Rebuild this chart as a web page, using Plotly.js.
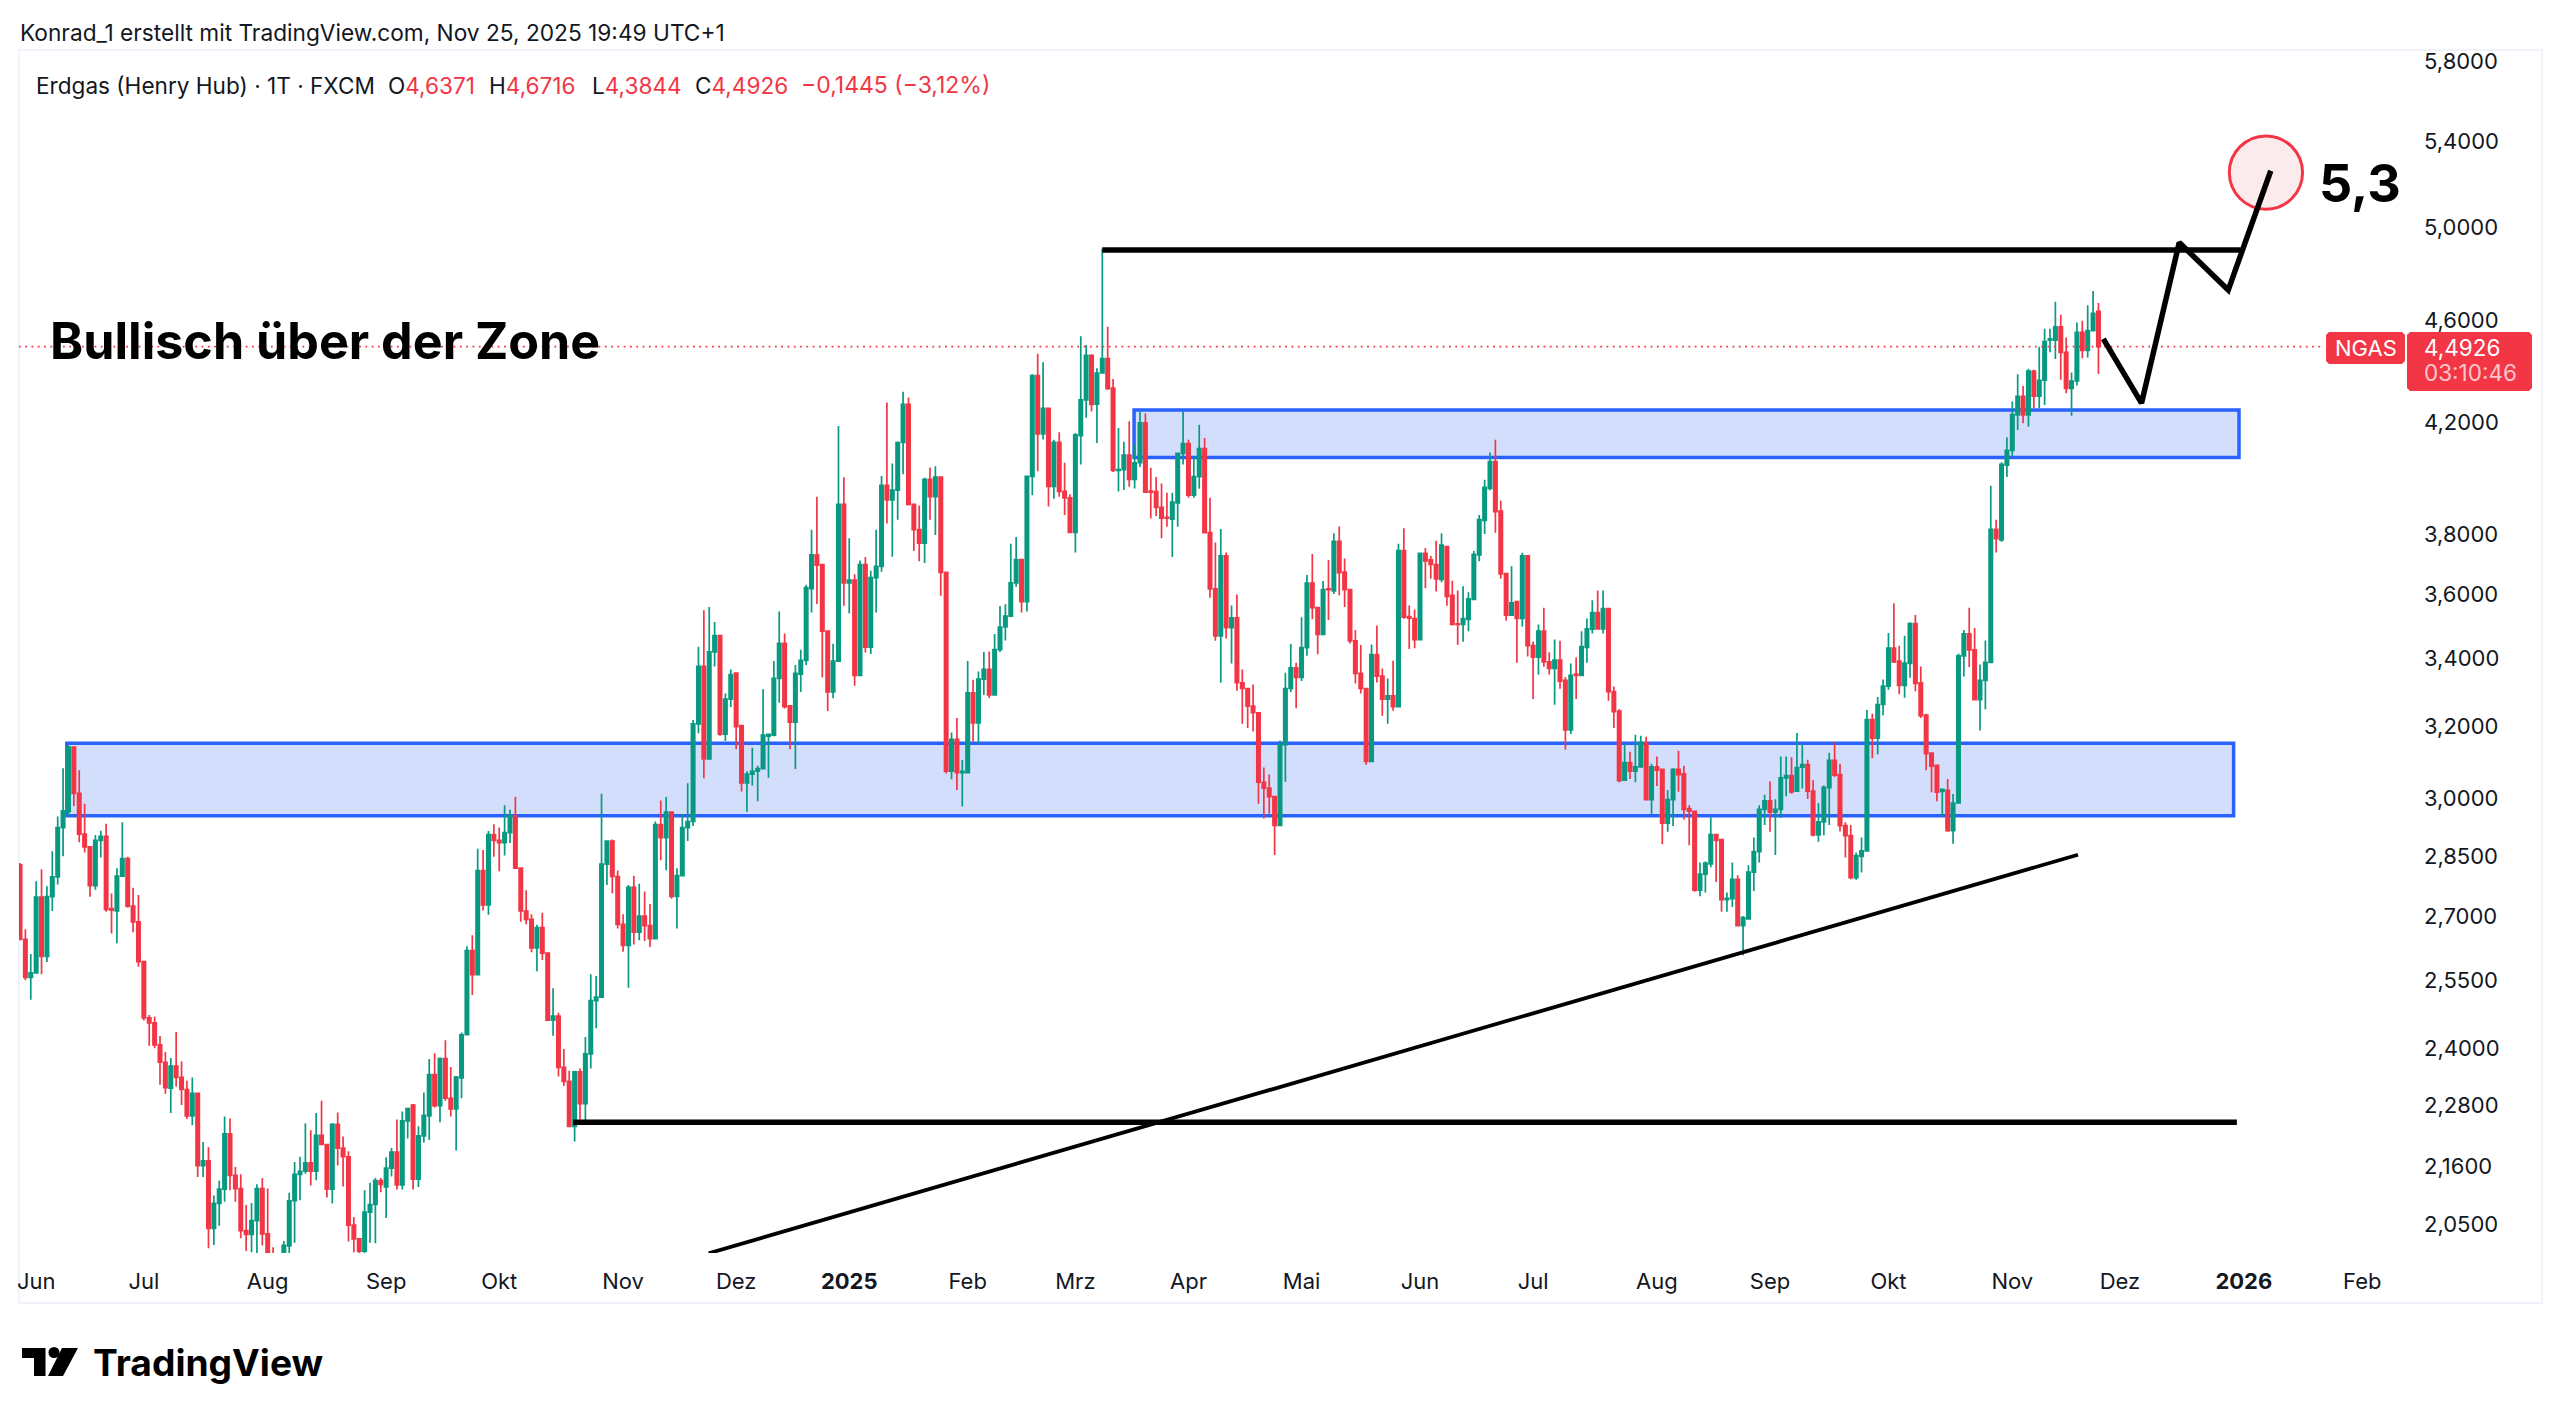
<!DOCTYPE html>
<html><head><meta charset="utf-8">
<script src="https://cdn.plot.ly/plotly-3.0.1.min.js"></script>
<style>html,body{margin:0;padding:0;background:#fff}#c{width:2560px;height:1419px}</style>
</head><body><div id="c"></div>
<script>
const openP=[
2.827,2.645,2.557,2.567,2.747,2.605,2.748,2.797,2.923,2.965,
3.141,3.014,2.906,2.873,2.775,2.890,2.900,2.719,2.713,2.799,
2.843,2.725,2.687,2.593,2.466,2.455,2.407,2.370,2.316,2.362,
2.338,2.313,2.259,2.305,2.161,2.170,2.043,2.089,2.116,2.223,
2.142,2.117,2.039,2.032,2.057,2.117,2.033,1.990,1.950,1.995,
2.011,2.094,2.144,2.150,2.166,2.150,2.220,2.202,2.116,2.242,
2.195,2.178,2.049,2.024,2.002,2.073,2.087,2.132,2.120,2.156,
2.187,2.124,2.249,2.281,2.135,2.219,2.259,2.344,2.280,2.378,
2.295,2.273,2.337,2.429,2.619,2.563,2.813,2.728,2.905,2.890,
2.884,2.910,2.954,2.819,2.713,2.693,2.625,2.673,2.613,2.461,
2.470,2.359,2.330,2.238,2.350,2.284,2.388,2.504,2.512,2.829,
2.888,2.798,2.681,2.631,2.771,2.662,2.701,2.678,2.647,2.931,
2.897,2.964,2.749,2.800,2.923,2.939,3.207,3.376,3.108,3.420,
3.470,3.178,3.279,3.356,3.202,3.042,3.066,3.074,3.081,3.172,
3.175,3.340,3.446,3.259,3.212,3.353,3.394,3.619,3.730,3.698,
3.484,3.300,3.392,3.902,3.638,3.647,3.349,3.698,3.435,3.655,
3.692,3.969,3.918,3.952,4.124,4.267,3.902,3.815,3.769,3.990,
3.929,3.998,3.672,3.074,3.163,3.070,3.070,3.297,3.210,3.338,
3.367,3.291,3.427,3.497,3.531,3.638,3.714,3.577,4.001,4.378,
4.156,4.252,3.965,4.125,3.948,3.925,3.806,4.149,4.284,4.458,
4.268,4.389,4.445,4.329,4.022,4.025,4.078,3.990,4.050,4.197,
3.949,3.947,3.892,3.857,3.851,3.907,4.084,4.120,3.934,4.000,
4.102,3.805,3.618,3.469,3.727,3.495,3.526,3.327,3.310,3.258,
3.239,3.044,3.028,3.005,2.929,3.148,3.310,3.372,3.343,3.433,
3.637,3.558,3.474,3.618,3.612,3.775,3.673,3.616,3.454,3.355,
3.310,3.101,3.412,3.347,3.279,3.288,3.257,3.744,3.530,3.523,
3.458,3.735,3.713,3.698,3.649,3.758,3.597,3.507,3.505,3.521,
3.584,3.730,3.847,3.958,4.054,3.879,3.668,3.534,3.577,3.524,
3.727,3.439,3.404,3.484,3.390,3.370,3.395,3.334,3.190,3.353,
3.349,3.434,3.490,3.542,3.491,3.555,3.301,3.244,3.050,3.098,
3.074,3.086,3.152,2.997,3.086,3.079,2.935,2.997,3.079,3.067,
2.973,2.966,2.764,2.804,2.830,2.905,2.892,2.741,2.743,2.791,
2.678,2.694,2.809,2.861,2.971,2.994,2.964,2.971,3.056,3.062,
3.020,3.085,3.092,3.020,2.904,2.938,3.029,3.104,3.065,2.928,
2.902,2.795,2.849,2.863,3.219,3.166,3.263,3.317,3.432,3.392,
3.319,3.385,3.508,3.327,3.232,3.124,3.090,3.019,3.022,2.915,
2.988,3.408,3.476,3.426,3.277,3.334,3.388,3.816,3.780,4.041,
4.095,4.227,4.298,4.227,4.396,4.298,4.360,4.519,4.519,4.573,
4.470,4.328,4.357,4.551,4.478,4.558,4.6371];
const highP=[
2.832,2.669,2.611,2.786,2.816,2.774,2.862,2.952,3.082,3.145,
3.143,3.077,2.986,2.873,2.904,2.915,2.933,2.756,2.819,2.937,
2.848,2.770,2.752,2.593,2.472,2.469,2.426,2.392,2.379,2.435,
2.372,2.331,2.338,2.305,2.207,2.197,2.104,2.132,2.258,2.254,
2.158,2.144,2.086,2.090,2.125,2.137,2.117,2.009,1.990,2.020,
2.109,2.168,2.178,2.244,2.230,2.265,2.290,2.202,2.244,2.266,
2.218,2.189,2.064,2.024,2.114,2.128,2.137,2.137,2.177,2.195,
2.252,2.268,2.276,2.283,2.238,2.307,2.377,2.389,2.380,2.417,
2.360,2.341,2.434,2.629,2.655,2.868,2.865,2.914,2.932,2.923,
2.982,2.970,3.005,2.819,2.764,2.705,2.680,2.709,2.613,2.532,
2.477,2.398,2.352,2.352,2.357,2.424,2.564,2.560,3.013,2.890,
2.892,2.813,2.705,2.777,2.800,2.780,2.761,2.730,2.939,2.995,
3.004,2.964,2.819,2.959,3.041,3.218,3.436,3.550,3.560,3.513,
3.472,3.295,3.367,3.356,3.204,3.074,3.139,3.089,3.308,3.177,
3.392,3.546,3.477,3.259,3.380,3.427,3.632,3.815,3.929,3.698,
3.484,3.445,4.185,3.998,3.786,3.666,3.711,3.723,3.677,3.815,
4.002,4.274,4.047,4.128,4.315,4.293,3.902,3.898,3.996,4.033,
4.037,3.998,3.672,3.182,3.224,3.105,3.392,3.336,3.361,3.420,
3.421,3.475,3.563,3.569,3.767,3.790,3.714,4.001,4.383,4.464,
4.431,4.252,4.134,4.162,4.050,3.938,4.159,4.535,4.500,4.462,
4.407,4.905,4.573,4.365,4.178,4.127,4.203,4.117,4.241,4.232,
4.032,3.999,3.976,3.943,3.943,4.084,4.241,4.134,4.074,4.190,
4.141,3.925,3.771,3.817,3.738,3.565,3.600,3.367,3.310,3.322,
3.239,3.084,3.065,3.005,3.160,3.357,3.444,3.387,3.528,3.663,
3.733,3.558,3.644,3.713,3.803,3.826,3.718,3.616,3.488,3.441,
3.310,3.443,3.502,3.370,3.340,3.393,3.767,3.820,3.565,3.552,
3.738,3.753,3.727,3.777,3.803,3.758,3.645,3.613,3.627,3.607,
3.743,3.865,3.989,4.087,4.134,3.915,3.668,3.692,3.580,3.737,
3.727,3.452,3.505,3.558,3.419,3.458,3.454,3.344,3.385,3.403,
3.484,3.524,3.582,3.613,3.613,3.555,3.316,3.249,3.149,3.128,
3.176,3.173,3.170,3.095,3.115,3.079,3.023,3.082,3.131,3.089,
2.982,2.966,2.833,2.836,2.950,2.905,2.892,2.758,2.833,2.801,
2.701,2.826,2.897,2.982,3.010,3.046,2.998,3.115,3.115,3.113,
3.181,3.150,3.106,3.050,2.988,3.035,3.125,3.155,3.095,2.937,
2.930,2.859,2.897,3.247,3.236,3.285,3.337,3.478,3.572,3.439,
3.470,3.512,3.535,3.376,3.236,3.124,3.090,3.027,3.053,3.012,
3.415,3.488,3.558,3.494,3.382,3.455,3.968,3.849,4.052,4.143,
4.278,4.383,4.338,4.405,4.401,4.492,4.565,4.565,4.677,4.623,
4.530,4.390,4.591,4.598,4.662,4.722,4.6716];
const lowP=[
2.645,2.550,2.506,2.567,2.564,2.592,2.713,2.778,2.849,2.952,
2.980,2.885,2.859,2.748,2.765,2.846,2.711,2.659,2.636,2.799,
2.721,2.662,2.581,2.460,2.405,2.400,2.323,2.304,2.265,2.319,
2.281,2.253,2.240,2.139,2.139,2.007,2.013,2.048,2.092,2.114,
2.092,2.025,2.002,2.000,1.998,2.012,1.970,1.950,1.930,1.980,
1.990,2.017,2.095,2.145,2.123,2.133,2.202,2.100,2.089,2.161,
2.121,2.019,2.000,1.990,1.990,2.017,2.016,2.110,2.062,2.140,
2.115,2.115,2.214,2.115,2.120,2.206,2.211,2.276,2.246,2.290,
2.258,2.190,2.295,2.429,2.517,2.563,2.714,2.704,2.848,2.811,
2.851,2.883,2.817,2.687,2.681,2.615,2.571,2.597,2.461,2.427,
2.340,2.320,2.237,2.208,2.252,2.243,2.357,2.443,2.512,2.777,
2.756,2.671,2.616,2.533,2.633,2.643,2.641,2.627,2.647,2.839,
2.814,2.743,2.671,2.800,2.888,2.927,3.180,3.055,3.108,3.376,
3.173,3.158,3.256,3.135,3.019,2.965,3.035,2.993,3.081,3.056,
3.172,3.268,3.251,3.135,3.080,3.300,3.380,3.543,3.570,3.343,
3.244,3.281,3.392,3.564,3.540,3.318,3.349,3.418,3.414,3.543,
3.674,3.836,3.724,3.849,4.009,3.898,3.743,3.709,3.703,3.849,
3.797,3.596,3.068,3.052,3.023,2.979,3.070,3.156,3.149,3.291,
3.282,3.291,3.420,3.455,3.531,3.625,3.543,3.546,3.934,4.019,
4.135,3.895,3.922,3.929,3.865,3.803,3.738,4.044,4.216,4.240,
4.122,4.389,4.323,4.017,3.947,3.953,3.964,3.958,4.035,3.945,
3.853,3.862,3.786,3.825,3.723,3.825,4.044,3.925,3.925,3.957,
3.803,3.590,3.454,3.327,3.461,3.385,3.303,3.207,3.195,3.185,
2.986,2.947,2.960,2.852,2.929,3.045,3.300,3.252,3.332,3.408,
3.521,3.413,3.474,3.519,3.602,3.598,3.560,3.446,3.325,3.295,
3.092,3.101,3.328,3.230,3.207,3.245,3.257,3.523,3.429,3.431,
3.458,3.620,3.651,3.610,3.640,3.564,3.502,3.442,3.451,3.484,
3.584,3.709,3.800,3.952,3.804,3.651,3.517,3.534,3.387,3.498,
3.406,3.279,3.351,3.375,3.352,3.262,3.309,3.134,3.178,3.279,
3.349,3.387,3.477,3.491,3.477,3.274,3.195,3.044,3.050,3.053,
3.044,3.086,2.997,2.958,3.034,2.880,2.912,2.927,3.018,2.944,
2.877,2.760,2.749,2.758,2.821,2.784,2.711,2.711,2.723,2.678,
2.608,2.694,2.762,2.833,2.930,2.912,2.852,2.948,3.006,3.013,
3.020,3.027,2.999,2.900,2.886,2.903,2.930,3.058,2.913,2.846,
2.791,2.790,2.808,2.863,3.110,3.121,3.232,3.306,3.386,3.293,
3.283,3.342,3.302,3.224,3.077,3.017,2.993,2.953,2.912,2.881,
2.988,3.346,3.374,3.277,3.188,3.249,3.388,3.738,3.774,3.999,
4.074,4.170,4.196,4.182,4.253,4.253,4.265,4.470,4.444,4.362,
4.310,4.224,4.340,4.447,4.450,4.558,4.3844];
const closeP=[
2.645,2.557,2.567,2.747,2.605,2.748,2.797,2.923,2.967,3.141,
3.014,2.906,2.873,2.775,2.890,2.900,2.717,2.715,2.799,2.843,
2.725,2.687,2.593,2.466,2.455,2.407,2.370,2.317,2.362,2.338,
2.313,2.259,2.305,2.161,2.170,2.043,2.089,2.116,2.223,2.142,
2.117,2.039,2.032,2.057,2.117,2.033,1.990,1.960,1.970,2.012,
2.094,2.144,2.150,2.166,2.150,2.220,2.202,2.116,2.242,2.195,
2.178,2.049,2.024,2.002,2.073,2.087,2.132,2.125,2.156,2.187,
2.124,2.249,2.274,2.135,2.219,2.260,2.344,2.280,2.378,2.295,
2.273,2.339,2.429,2.619,2.563,2.813,2.728,2.905,2.890,2.884,
2.910,2.954,2.819,2.713,2.693,2.625,2.673,2.613,2.461,2.470,
2.359,2.330,2.238,2.350,2.284,2.388,2.504,2.512,2.829,2.888,
2.798,2.681,2.631,2.771,2.662,2.701,2.678,2.647,2.931,2.897,
2.964,2.749,2.800,2.923,2.939,3.207,3.376,3.108,3.420,3.470,
3.178,3.279,3.351,3.199,3.042,3.066,3.074,3.081,3.175,3.177,
3.340,3.446,3.257,3.212,3.355,3.394,3.622,3.730,3.696,3.484,
3.300,3.392,3.902,3.638,3.647,3.349,3.698,3.435,3.655,3.692,
3.969,3.918,3.952,4.124,4.267,3.902,3.815,3.769,3.990,3.929,
3.998,3.672,3.074,3.163,3.070,3.074,3.297,3.210,3.338,3.367,
3.291,3.427,3.497,3.531,3.638,3.714,3.577,4.001,4.378,4.156,
4.252,3.965,4.125,3.948,3.925,3.806,4.152,4.284,4.458,4.267,
4.388,4.445,4.327,4.022,4.025,4.078,3.990,4.050,4.197,3.945,
3.945,3.892,3.854,3.854,3.910,4.084,4.120,3.934,4.000,4.102,
3.805,3.618,3.469,3.727,3.495,3.526,3.327,3.310,3.258,3.239,
3.044,3.028,3.005,2.929,3.148,3.310,3.372,3.343,3.433,3.637,
3.558,3.474,3.616,3.616,3.775,3.671,3.616,3.454,3.355,3.310,
3.101,3.412,3.347,3.279,3.288,3.257,3.744,3.528,3.525,3.458,
3.735,3.710,3.698,3.651,3.763,3.594,3.505,3.505,3.523,3.586,
3.732,3.849,3.962,4.054,3.877,3.667,3.534,3.573,3.524,3.727,
3.439,3.404,3.484,3.390,3.370,3.395,3.332,3.190,3.349,3.349,
3.436,3.491,3.542,3.491,3.555,3.301,3.242,3.048,3.098,3.074,
3.086,3.154,2.997,3.086,3.077,2.935,2.997,3.079,3.065,2.971,
2.966,2.764,2.804,2.832,2.905,2.890,2.741,2.744,2.791,2.678,
2.697,2.809,2.861,2.971,2.994,2.964,2.971,3.056,3.062,3.018,
3.084,3.092,3.020,2.904,2.938,3.030,3.104,3.063,2.928,2.902,
2.795,2.851,2.863,3.219,3.166,3.263,3.317,3.432,3.390,3.319,
3.386,3.508,3.325,3.231,3.123,3.088,3.017,3.025,2.915,2.988,
3.408,3.476,3.426,3.277,3.334,3.388,3.816,3.784,4.044,4.095,
4.228,4.298,4.227,4.396,4.298,4.360,4.513,4.524,4.573,4.470,
4.328,4.357,4.551,4.478,4.558,4.629,4.4926];

const xTickBars=[3,23,46,68,89,112,133,154,176,196,217,238,260,281,304,325,347,370,390,413,435];
const xTickLabels=["Jun","Jul","Aug","Sep","Okt","Nov","Dez","<b>2025</b>","Feb","Mrz","Apr","Mai","Jun","Jul","Aug","Sep","Okt","Nov","Dez","<b>2026</b>","Feb"];
const yTickVals=[5.8,5.4,5.0,4.6,4.2,3.8,3.6,3.4,3.2,3.0,2.85,2.7,2.55,2.4,2.28,2.16,2.05];
const yTickLabels=["5,8000","5,4000","5,0000","4,6000","4,2000","3,8000","3,6000","3,4000","3,2000","3,0000","2,8500","2,7000","2,5500","2,4000","2,2800","2,1600","2,0500"];

const zoneLow=[2.954,3.152], zoneLowBars=[8.7,411.1];
const zoneHigh=[4.069,4.246], zoneHighBars=[206.9,412.1];
const topLine=[4.898,4.898], topLineBars=[201,412.4];
const floorLine=[2.246,2.246], floorLineBars=[102.7,411.7];
const trendLine=[1.998,2.853], trendLineBars=[127.9,382.2];
const pathPrices=[4.524,4.272,4.931,4.726,5.258], pathBars=[386.9,394,401,410.1,418];
const targetPrices=[5.080,5.424], targetBars=[410.3,423.9];
const lastPrice=[4.4926,4.4926], lastPriceBars=[-0.2,427.7];

const UP="#089981",DOWN="#f23645",BLUE="#2962ff",INK="#131722",FONT="Inter, sans-serif";
const L=19,R=2407,T=50,B=1253,W=2560,H=1419;
const px=x=>(x-L)/(R-L), py=y=>1-(y-T)/(B-T);
const pathOf=pts=>"M"+pts.map(p=>px(p[0])+" "+py(p[1])).join("L")+"Z";

function txt(text,x,y,size,opts){return Object.assign({text,x:px(x),y:py(y),xref:"paper",yref:"paper",showarrow:false,
  xanchor:"left",yanchor:"middle",borderpad:0,font:{family:FONT,size,color:INK}},opts||{});}
function rr(x0,y0,x1,y1,r,fill){ // rounded label box in paper coordinates
  const k=[[x0+r,y0],[x1-r,y0],[x1,y0+r],[x1,y1-r],[x1-r,y1],[x0+r,y1],[x0,y1-r],[x0,y0+r]];
  return {type:"path",xref:"paper",yref:"paper",path:pathOf(k),fillcolor:fill,line:{width:0},layer:"above"};
}
const red=s=>'<span style="color:'+DOWN+'">'+s+'</span>';

const traces=[
 {type:"candlestick",x:openP.map((_,i)=>i),open:openP,high:highP,low:lowP,close:closeP,whiskerwidth:0,
  increasing:{line:{color:UP,width:1.7},fillcolor:UP},decreasing:{line:{color:DOWN,width:1.7},fillcolor:DOWN},hoverinfo:"skip"},
 {type:"scatter",mode:"lines",x:lastPriceBars,y:lastPrice,line:{color:DOWN,width:1.8,dash:"1.8px 4.5px"},hoverinfo:"skip"},
 {type:"scatter",mode:"lines",x:topLineBars,y:topLine,line:{color:"#000",width:5.5},hoverinfo:"skip"},
 {type:"scatter",mode:"lines",x:floorLineBars,y:floorLine,line:{color:"#000",width:5.5},hoverinfo:"skip"},
 {type:"scatter",mode:"lines",x:trendLineBars,y:trendLine,line:{color:"#000",width:3.8},hoverinfo:"skip"},
 {type:"scatter",mode:"lines",x:pathBars,y:pathPrices,line:{color:"#000",width:5.5,simplify:false},hoverinfo:"skip"}
];
const zone=(xs,ys)=>({type:"rect",xref:"x",yref:"y",x0:xs[0],x1:xs[1],y0:ys[0],y1:ys[1],layer:"below",
  fillcolor:"rgb(211,222,253)",line:{color:BLUE,width:3.5}});
const layout={
 width:W,height:H,showlegend:false,paper_bgcolor:"#fff",plot_bgcolor:"#fff",boxgap:0.12,
 margin:{l:L,r:W-R,t:T,b:H-B,pad:0},
 xaxis:{type:"linear",range:[-0.186,443.3],rangeslider:{visible:false},showgrid:false,zeroline:false,showline:false,
  tickmode:"array",tickvals:xTickBars,ticktext:xTickLabels,ticks:"",ticklabelstandoff:13,tickangle:0,
  tickfont:{family:FONT,size:22,color:INK}},
 yaxis:{type:"log",side:"right",range:[Math.log10(1.9985),Math.log10(5.857)],showgrid:false,zeroline:false,showline:false,
  tickmode:"array",tickvals:yTickVals,ticktext:yTickLabels,ticks:"",ticklabelstandoff:16,
  tickfont:{family:FONT,size:22,color:INK}},
 shapes:[
  {type:"rect",xref:"paper",yref:"paper",x0:px(19),x1:px(2542),y0:py(50),y1:py(1303),line:{color:"#f0f3fa",width:2},layer:"below"},
  zone(zoneLowBars,zoneLow),zone(zoneHighBars,zoneHigh),
  {type:"circle",xref:"x",yref:"y",x0:targetBars[0],x1:targetBars[1],y0:targetPrices[0],y1:targetPrices[1],layer:"below",
   fillcolor:"rgb(252,235,237)",line:{color:DOWN,width:3}},
  rr(2326,332,2405,364,3,DOWN),rr(2407,332,2532,391,3,DOWN),
  {type:"path",xref:"paper",yref:"paper",layer:"above",fillcolor:"#000",line:{width:0},
   path:pathOf([[22,1348],[45.5,1348],[45.5,1376],[34,1376],[34,1358],[22,1358]])},
  {type:"circle",xref:"paper",yref:"paper",layer:"above",fillcolor:"#000",line:{width:0},
   x0:px(48.5),x1:px(59.5),y0:py(1347),y1:py(1358)},
  {type:"path",xref:"paper",yref:"paper",layer:"above",fillcolor:"#000",line:{width:0},
   path:pathOf([[62,1348],[78,1348],[63,1376],[48,1376]])}
 ],
 annotations:[
  txt("Konrad_1 erstellt mit TradingView.com, Nov 25, 2025 19:49 UTC+1",19,33,22.7),
  txt("Erdgas (Henry Hub) · 1T · FXCM",34.5,85,22.6),
  txt("O"+red("4,6371"),387,85,22.6),
  txt("H"+red("4,6716"),488,85,22.6),
  txt("L"+red("4,3844"),591,85,22.6),
  txt("C"+red("4,4926"),694,85,22.6),
  txt(red("−0,1445 (−3,12%)"),800,85,23),
  txt("<b>Bullisch über der Zone</b>",49,340,50.2,{font:{family:FONT,size:50.2,color:"#000"}}),
  txt("<b>5,3</b>",2318,184,52,{font:{family:FONT,size:52,color:"#000"}}),
  txt("NGAS",2365.5,348,22,{xanchor:"center",font:{family:FONT,size:22,color:"#fff"}}),
  txt("4,4926",2423,348,22.5,{font:{family:FONT,size:22.5,color:"#fff"}}),
  txt("03:10:46",2423,373,22.5,{font:{family:FONT,size:22.5,color:"rgba(255,255,255,0.72)"}}),
  txt("<b>TradingView</b>",92,1362,37.2,{font:{family:FONT,size:37.2,color:"#000"}})
 ]
};
Plotly.newPlot("c",traces,layout,{staticPlot:true,displayModeBar:false});
</script></body></html>
